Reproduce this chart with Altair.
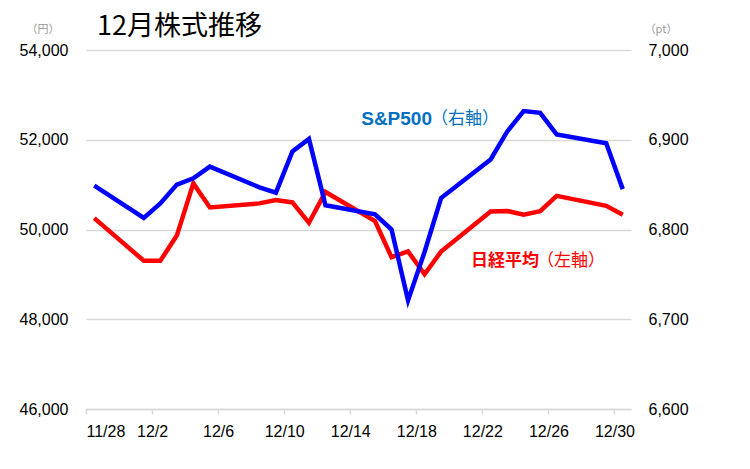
import altair as alt
import pandas as pd

# ---- data ----
dates = ["2025-11-28", "2025-12-01", "2025-12-02", "2025-12-03", "2025-12-04", "2025-12-05",
         "2025-12-08", "2025-12-09", "2025-12-10", "2025-12-11", "2025-12-12",
         "2025-12-15", "2025-12-16", "2025-12-17", "2025-12-18", "2025-12-19",
         "2025-12-22", "2025-12-23", "2025-12-24", "2025-12-25", "2025-12-26",
         "2025-12-29", "2025-12-30"]
nikkei = [50254, 49303, 49303, 49865, 51028, 50492,
          50582, 50655, 50603, 50149, 50837,
          50190, 49383, 49512, 49002, 49507,
          50402, 50413, 50330, 50408, 50750,
          50527, 50330]
sp500 = [6849, 6813, 6829, 6850, 6857, 6870,
         6847, 6841, 6887, 6901, 6827,
         6817, 6800, 6721, 6775, 6835,
         6878, 6909, 6932, 6930, 6906,
         6896, 6845]
x_tick_days = [(2025, 11, 28), (2025, 12, 2), (2025, 12, 6), (2025, 12, 10), (2025, 12, 14),
               (2025, 12, 18), (2025, 12, 22), (2025, 12, 26), (2025, 12, 30)]
left_ticks = [46000, 48000, 50000, 52000, 54000]
right_ticks = [6600, 6700, 6800, 6900, 7000]

title_text = "12月株式推移"
sp_label = ["S&P500", "（右軸）"]
nk_label = ["日経平均", "（左軸）"]
unit_left = "（円）"
unit_right = "（pt）"

df = pd.DataFrame({"date": [d + "T12:00:00" for d in dates], "nikkei": nikkei, "sp500": sp500})

AXIS_FONT = "Liberation Sans"
JP_FONT = "Noto Sans CJK JP"
GRID = "#d9d9d9"

x_enc = alt.X(
    "date:T",
    scale=alt.Scale(domain=[alt.DateTime(year=2025, month=11, date=28),
                            alt.DateTime(year=2025, month=12, date=31)]),
    axis=alt.Axis(
        values=[alt.DateTime(year=y, month=m, date=d) for (y, m, d) in x_tick_days],
        format="%-m/%-d", title=None, grid=False,
        domainColor=GRID, domainWidth=1.5, tickColor=GRID, tickWidth=1.5, tickSize=5,
        labelFont=AXIS_FONT, labelFontSize=16, labelColor="#000", labelPadding=9,
    ),
)

base = alt.Chart(df)

red = base.mark_line(color="#FF0000", strokeWidth=4.5).encode(
    x=x_enc,
    y=alt.Y("nikkei:Q",
            scale=alt.Scale(domain=[46000, 54000], nice=False, zero=False),
            axis=alt.Axis(orient="left", values=left_ticks, format=",d", title=None,
                          domain=False, ticks=False, gridColor=GRID, gridWidth=1.5,
                          labelFont=AXIS_FONT, labelFontSize=16, labelColor="#000",
                          labelPadding=18)),
)

blue = base.mark_line(color="#0000FF", strokeWidth=4.5).encode(
    x=x_enc,
    y=alt.Y("sp500:Q",
            scale=alt.Scale(domain=[6600, 7000], nice=False, zero=False),
            axis=alt.Axis(orient="right", values=right_ticks, format=",d", title=None,
                          domain=False, ticks=False, grid=False,
                          labelFont=AXIS_FONT, labelFontSize=16, labelColor="#000",
                          labelPadding=17)),
)


def text_layer(txt, x, y, size, color, weight="normal", align="left", font=JP_FONT):
    return alt.Chart(pd.DataFrame({"t": [txt]})).mark_text(
        font=font, fontSize=size, color=color, fontWeight=weight, align=align,
        baseline="middle",
    ).encode(text="t:N", x=alt.value(x), y=alt.value(y))


texts = [
    text_layer(title_text, 11, -23, 27, "#000"),
    text_layer(sp_label[0], 346, 69, 19, "#0070C0", weight="bold", align="right", font=AXIS_FONT),
    text_layer(sp_label[1], 345, 69, 17, "#0070C0"),
    text_layer(nk_label[0], 453, 211, 17, "#FF0000", weight="bold", align="right"),
    text_layer(nk_label[1], 451, 211, 17, "#FF0000"),
    text_layer(unit_left, -43, -20, 11, "#999999", align="center"),
    text_layer(unit_right, 575, -20, 11, "#999999", align="center"),
]

chart = alt.layer(red, blue, *texts).resolve_scale(y="independent").properties(
    width=545, height=359,
    padding={"left": 78, "top": 42, "right": 111, "bottom": 52},
    autosize=alt.AutoSizeParams(type="none"),
).configure_view(stroke=None)

chart.save("out.html", embed_options={"renderer": "svg", "actions": False})
